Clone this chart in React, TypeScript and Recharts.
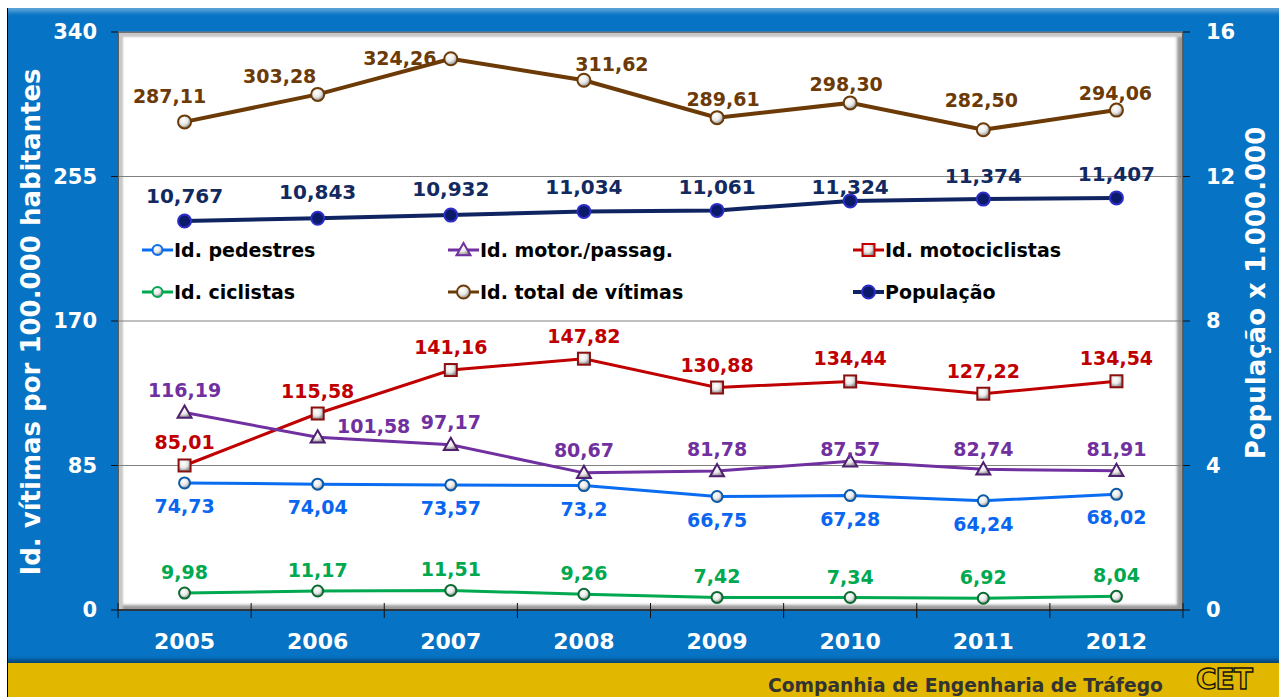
import React from 'react'
import {
  LineChart,
  Line,
  XAxis,
  YAxis,
  CartesianGrid,
  Legend,
  LabelList,
  Label,
} from 'recharts'

const YEARS = ['2005', '2006', '2007', '2008', '2009', '2010', '2011', '2012']
const PEDESTRES = [74.73, 74.04, 73.57, 73.2, 66.75, 67.28, 64.24, 68.02]
const MOTOR = [116.19, 101.58, 97.17, 80.67, 81.78, 87.57, 82.74, 81.91]
const MOTOCICLISTAS = [85.01, 115.58, 141.16, 147.82, 130.88, 134.44, 127.22, 134.54]
const CICLISTAS = [9.98, 11.17, 11.51, 9.26, 7.42, 7.34, 6.92, 8.04]
const TOTAL = [287.11, 303.28, 324.26, 311.62, 289.61, 298.3, 282.5, 294.06]
const POPULACAO = [10.767, 10.843, 10.932, 11.034, 11.061, 11.324, 11.374, 11.407]

const LEFT_TICKS = [0, 85, 170, 255, 340]
const RIGHT_TICKS = [0, 4, 8, 12, 16]

// label nudges [dx, dy] relative to the point, as placed in the original
const TOTAL_OFFSETS = [[-15, -26], [-38, -18], [-51, -1], [28, -16], [6, -19], [-4, -19], [-2, -30], [-1, -17]]
const POP_OFFSETS = [[0, -25], [0, -26], [0, -26], [0, -24], [0, -23], [0, -14], [0, -23], [0, -24]]
const MOTO_OFFSETS = YEARS.map(() => [0, -23])
const MOTOR_OFFSETS = [[0, -22], [56, -11], [0, -23], [0, -23], [0, -22], [0, -12], [0, -20], [0, -22]]
const PED_OFFSETS = YEARS.map(() => [0, 23])
const CICL_OFFSETS = YEARS.map(() => [0, -21])

const FONT = '"DejaVu Sans", Verdana, sans-serif'
const PLOT_LEFT = 118
const PLOT_TOP = 32
const PLOT_RIGHT = 1183
const PLOT_BOTTOM = 610
const HALF_BAND = (PLOT_RIGHT - PLOT_LEFT) / YEARS.length / 2

const C = {
  ped: '#0a6cf0',
  motor: '#7030a0',
  moto: '#c00000',
  cicl: '#00a850',
  total: '#6b3a06',
  pop: '#0f2461',
}

const data = YEARS.map((year, i) => ({
  year,
  ped: PEDESTRES[i],
  motor: MOTOR[i],
  moto: MOTOCICLISTAS[i],
  cicl: CICLISTAS[i],
  total: TOTAL[i],
  pop: POPULACAO[i],
}))

const comma = (s: string) => s.replace('.', ',')
const fmt2 = (v: number) => comma(v.toFixed(2))
const fmtRaw = (v: number) => comma(String(v))
const fmt3 = (v: number) => comma(v.toFixed(3))

type Kind = 'ball' | 'tri' | 'square' | 'pop'

function Marker({ cx, cy, kind, color, grad, r = 6 }: any) {
  if (kind === 'tri') {
    const s = 7
    return (
      <polygon
        points={`${cx},${cy - s} ${cx + s},${cy + s * 0.75} ${cx - s},${cy + s * 0.75}`}
        fill={`url(#${grad})`}
        stroke={color}
        strokeWidth={2}
      />
    )
  }
  if (kind === 'square') {
    return (
      <rect x={cx - 6} y={cy - 6} width={12} height={12} fill={`url(#${grad})`} stroke={color} strokeWidth={2} />
    )
  }
  if (kind === 'pop') {
    return <circle cx={cx} cy={cy} r={6.5} fill='#0c1a6a' stroke='#2d2dc8' strokeWidth={2} />
  }
  return <circle cx={cx} cy={cy} r={r} fill={`url(#${grad})`} stroke={color} strokeWidth={2} />
}

const dotFor = (kind: Kind, color: string, r?: number) => (p: any) => (
  <Marker key={`d-${p.index}`} cx={p.cx} cy={p.cy} kind={kind} color={color} grad='ball' r={r} />
)

const labelFor = (color: string, fmt: (v: number) => string, offsets: number[][], size = 19) => (p: any) => {
  const [dx, dy] = offsets[p.index] || [0, 0]
  return (
    <text
      x={Number(p.x) + dx}
      y={Number(p.y) + dy}
      textAnchor='middle'
      dominantBaseline='central'
      fill={color}
      fontSize={size}
      fontWeight='bold'
      fontFamily={FONT}
    >
      {fmt(Number(p.value))}
    </text>
  )
}

function YearTick({ x, y, payload, index }: any) {
  return (
    <g>
      <line x1={x - HALF_BAND} x2={x - HALF_BAND} y1={y - 7} y2={y + 8} stroke='#111' strokeWidth={1} />
      {index === YEARS.length - 1 && (
        <line x1={x + HALF_BAND} x2={x + HALF_BAND} y1={y - 7} y2={y + 8} stroke='#111' strokeWidth={1} />
      )}
      <text
        x={x}
        y={y + 31}
        textAnchor='middle'
        dominantBaseline='central'
        fill='#fff'
        fontSize={22}
        fontWeight='bold'
        fontFamily={FONT}
      >
        {payload.value}
      </text>
    </g>
  )
}

const LEGEND_ITEMS: { label: string; kind: Kind; color: string; width: number }[][] = [
  [
    { label: 'Id. pedestres', kind: 'ball', color: C.ped, width: 306 },
    { label: 'Id. motor./passag.', kind: 'tri', color: C.motor, width: 405 },
    { label: 'Id. motociclistas', kind: 'square', color: C.moto, width: 300 },
  ],
  [
    { label: 'Id. ciclistas', kind: 'ball', color: C.cicl, width: 306 },
    { label: 'Id. total de vítimas', kind: 'ball', color: C.total, width: 405 },
    { label: 'População', kind: 'pop', color: C.pop, width: 300 },
  ],
]

function BallGradient({ id }: { id: string }) {
  return (
    <radialGradient id={id} cx='40%' cy='35%' r='65%'>
      <stop offset='0%' stopColor='#ffffff' />
      <stop offset='55%' stopColor='#e8e8e8' />
      <stop offset='100%' stopColor='#8a8a8a' />
    </radialGradient>
  )
}

function LegendContent() {
  return (
    <div style={{ fontFamily: FONT }}>
      {LEGEND_ITEMS.map((row, ri) => (
        <div key={ri} style={{ display: 'flex', height: 42, alignItems: 'center' }}>
          {row.map((it) => (
            <div key={it.label} style={{ width: it.width, display: 'flex', alignItems: 'center' }}>
              <svg width={31} height={18} style={{ marginRight: 1 }}>
                <defs>
                  <BallGradient id='ballLegend' />
                </defs>
                <line x1={0} x2={31} y1={9} y2={9} stroke={it.color} strokeWidth={it.kind === 'pop' ? 4 : 3} />
                <Marker cx={15.5} cy={9} kind={it.kind} color={it.color} grad='ballLegend' r={it.kind === 'ball' && it.color === C.total ? 6.5 : 5} />
              </svg>
              <span style={{ fontSize: 19, fontWeight: 'bold', color: '#000', whiteSpace: 'nowrap' }}>{it.label}</span>
            </div>
          ))}
        </div>
      ))}
    </div>
  )
}

export default function App() {
  return (
    <div
      style={{
        position: 'absolute',
        left: 0,
        top: 0,
        width: 1279,
        height: 697,
        background: '#fff',
        overflow: 'hidden',
        fontFamily: FONT,
      }}
    >
      <div
        style={{
          position: 'absolute',
          left: 7,
          top: 8,
          width: 1272,
          height: 655,
          background: '#0673c4',
          borderLeft: '1px solid #000',
          boxShadow: 'inset 0 6px 4px -2px rgba(255,255,255,0.35), inset 0 -5px 4px -2px rgba(0,0,0,0.45)',
        }}
      />
      <div
        style={{
          position: 'absolute',
          left: 7,
          top: 663,
          width: 1272,
          height: 34,
          background: '#e1b700',
          borderLeft: '1px solid #000',
        }}
      />
      <div
        style={{
          position: 'absolute',
          left: PLOT_LEFT,
          top: PLOT_TOP,
          width: PLOT_RIGHT - PLOT_LEFT,
          height: PLOT_BOTTOM - PLOT_TOP,
          boxSizing: 'border-box',
          background: '#fff',
          border: '1px solid #666',
          boxShadow: 'inset 4px 4px 2px #c8c8c8, inset -5px -4px 3px #9a9a9a',
        }}
      />
      <div style={{ position: 'absolute', left: 0, top: 0 }}>
        <LineChart width={1279} height={662} data={data} margin={{ top: PLOT_TOP, right: 0, bottom: 0, left: 0 }}>
          <defs>
            <BallGradient id='ball' />
          </defs>
          <CartesianGrid yAxisId='l' vertical={false} stroke='#808080' strokeWidth={1} />
          <XAxis
            dataKey='year'
            height={52}
            padding={{ left: HALF_BAND, right: HALF_BAND }}
            axisLine={{ stroke: '#222', strokeWidth: 1.5 }}
            tickLine={false}
            tickSize={0}
            tickMargin={0}
            tick={<YearTick />}
            interval={0}
          />
          <YAxis
            yAxisId='l'
            domain={[0, 340]}
            ticks={LEFT_TICKS}
            width={PLOT_LEFT}
            axisLine={{ stroke: '#555' }}
            tickLine={{ stroke: '#111' }}
            tickSize={7}
            tickMargin={14}
            tick={{ fill: '#fff', fontSize: 21, fontWeight: 'bold', fontFamily: FONT }}
          >
            <Label
              content={() => (
                <text
                  x={31}
                  y={322}
                  transform='rotate(-90 31 322)'
                  textAnchor='middle'
                  dominantBaseline='central'
                  fill='#fff'
                  fontSize={26}
                  fontWeight='bold'
                  fontFamily={FONT}
                >
                  Id. vítimas por 100.000 habitantes
                </text>
              )}
            />
          </YAxis>
          <YAxis
            yAxisId='r'
            orientation='right'
            domain={[0, 16]}
            ticks={RIGHT_TICKS}
            width={1279 - PLOT_RIGHT}
            axisLine={{ stroke: '#555' }}
            tickLine={{ stroke: '#111' }}
            tickSize={7}
            tickMargin={16}
            tick={{ fill: '#fff', fontSize: 21, fontWeight: 'bold', fontFamily: FONT }}
          >
            <Label
              content={() => (
                <text
                  x={1256}
                  y={293}
                  transform='rotate(-90 1256 293)'
                  textAnchor='middle'
                  dominantBaseline='central'
                  fill='#fff'
                  fontSize={26}
                  fontWeight='bold'
                  fontFamily={FONT}
                >
                  População x 1.000.000
                </text>
              )}
            />
          </YAxis>
          <Legend
            layout='horizontal'
            verticalAlign='middle'
            align='center'
            wrapperStyle={{ top: 229, left: 142, width: 1020 }}
            content={<LegendContent />}
          />
          <Line yAxisId='l' dataKey='total' stroke={C.total} strokeWidth={4} dot={dotFor('ball', C.total, 6.5)} isAnimationActive={false}>
            <LabelList dataKey='total' content={labelFor(C.total, fmt2, TOTAL_OFFSETS)} />
          </Line>
          <Line yAxisId='r' dataKey='pop' stroke={C.pop} strokeWidth={4} dot={dotFor('pop', C.pop)} isAnimationActive={false}>
            <LabelList dataKey='pop' content={labelFor('#122a60', fmt3, POP_OFFSETS, 20)} />
          </Line>
          <Line yAxisId='l' dataKey='moto' stroke={C.moto} strokeWidth={3} dot={dotFor('square', '#8a1010')} isAnimationActive={false}>
            <LabelList dataKey='moto' content={labelFor(C.moto, fmt2, MOTO_OFFSETS)} />
          </Line>
          <Line yAxisId='l' dataKey='motor' stroke={C.motor} strokeWidth={3} dot={dotFor('tri', '#4f2070')} isAnimationActive={false}>
            <LabelList dataKey='motor' content={labelFor(C.motor, fmt2, MOTOR_OFFSETS)} />
          </Line>
          <Line yAxisId='l' dataKey='ped' stroke={C.ped} strokeWidth={3} dot={dotFor('ball', '#0a5aa8', 5.5)} isAnimationActive={false}>
            <LabelList dataKey='ped' content={labelFor('#0a66f0', fmtRaw, PED_OFFSETS)} />
          </Line>
          <Line yAxisId='l' dataKey='cicl' stroke={C.cicl} strokeWidth={3} dot={dotFor('ball', '#0a6a30', 5.5)} isAnimationActive={false}>
            <LabelList dataKey='cicl' content={labelFor(C.cicl, fmt2, CICL_OFFSETS)} />
          </Line>
        </LineChart>
      </div>
      <div
        style={{
          position: 'absolute',
          left: 768,
          top: 675,
          fontSize: 18.7,
          fontWeight: 'bold',
          color: '#333',
          whiteSpace: 'nowrap',
          lineHeight: '22px',
        }}
      >
        Companhia de Engenharia de Tráfego
      </div>
      <svg style={{ position: 'absolute', left: 1194, top: 664 }} width={80} height={33}>
        <text
          x={2}
          y={25}
          fontSize={28}
          fontWeight='bold'
          fontFamily={FONT}
          fill='none'
          stroke='#111'
          strokeWidth={1.4}
          letterSpacing={-1}
        >
          CET
        </text>
      </svg>
    </div>
  )
}
